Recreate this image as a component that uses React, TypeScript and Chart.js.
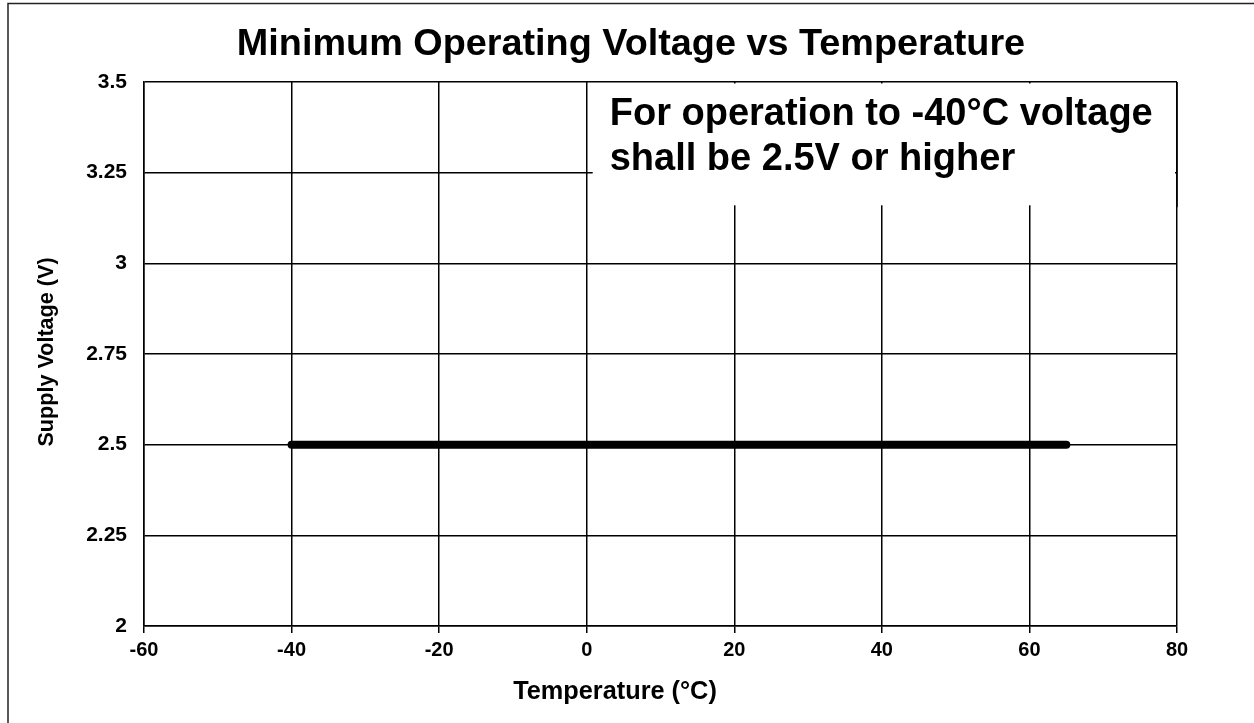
import React, { useEffect, useRef } from "react";
import { Chart, registerables } from "chart.js";

Chart.register(...registerables);

const chartTitle = "Minimum Operating Voltage vs Temperature";
const xAxisTitle = "Temperature (°C)";
const yAxisTitle = "Supply Voltage (V)";
const noteLines = ["For operation to -40°C voltage", "shall be 2.5V or higher"];

const xTickValues = [-60, -40, -20, 0, 20, 40, 60, 80];
const yTickValues = [2, 2.25, 2.5, 2.75, 3, 3.25, 3.5];
const yTickLabels = ["2", "2.25", "2.5", "2.75", "3", "3.25", "3.5"];

const temperatures = [-40, 65];
const minVoltage = [2.5, 2.5];

const FONT = "'Liberation Sans', Arial, sans-serif";

const textPlugin = {
  id: "textPlugin",
  beforeDraw(chart: any) {
    const ctx = chart.ctx;
    ctx.save();
    ctx.fillStyle = "#ffffff";
    ctx.fillRect(0, 0, chart.width, chart.height);
    ctx.strokeStyle = "#222222";
    ctx.lineWidth = 1.5;
    ctx.beginPath();
    ctx.moveTo(8, chart.height + 5);
    ctx.lineTo(8, 3.5);
    ctx.lineTo(chart.width + 5, 3.5);
    ctx.stroke();
    ctx.restore();
  },
  beforeDatasetsDraw(chart: any) {
    const ctx = chart.ctx;
    const xs = chart.scales.x;
    const ys = chart.scales.y;
    const left = xs.getPixelForValue(0) + 6;
    const top = ys.getPixelForValue(3.5) + 1.5;
    const rightEdge = xs.getPixelForValue(80);
    const right = rightEdge - 2;
    const bottom = ys.getPixelForValue(3.16);
    ctx.save();
    ctx.fillStyle = "#ffffff";
    ctx.fillRect(left, top, right - left, bottom - top);
    ctx.strokeStyle = "#000000";
    ctx.lineWidth = 1.5;
    ctx.beginPath();
    ctx.moveTo(rightEdge, ys.getPixelForValue(3.5));
    ctx.lineTo(rightEdge, bottom + 2);
    ctx.stroke();
    ctx.fillStyle = "#000000";
    ctx.font = `bold 38px ${FONT}`;
    ctx.textAlign = "left";
    ctx.textBaseline = "alphabetic";
    ctx.fillText(noteLines[0], left + 17, 125);
    ctx.fillText(noteLines[1], left + 17, 170);
    ctx.restore();
  },
  afterDraw(chart: any) {
    const ctx = chart.ctx;
    ctx.save();
    ctx.fillStyle = "#000000";
    ctx.textAlign = "center";
    ctx.textBaseline = "alphabetic";
    ctx.font = `bold 37.8px ${FONT}`;
    ctx.fillText(chartTitle, 631, 55);
    ctx.font = `bold 25.3px ${FONT}`;
    ctx.fillText(xAxisTitle, 615, 699);
    ctx.translate(53, 352);
    ctx.rotate(-Math.PI / 2);
    ctx.font = `bold 21.6px ${FONT}`;
    ctx.fillText(yAxisTitle, 0, 0);
    ctx.restore();
  },
};

export default function App() {
  const ref = useRef<HTMLCanvasElement | null>(null);

  useEffect(() => {
    if (!ref.current) return;
    const chart = new Chart(ref.current, {
      type: "line",
      data: {
        datasets: [
          {
            data: temperatures.map((t, i) => ({ x: t, y: minVoltage[i] })),
            borderColor: "#000000",
            borderWidth: 8,
            borderCapStyle: "round",
            pointRadius: 0,
            fill: false,
          },
        ],
      },
      options: {
        responsive: false,
        animation: false,
        layout: { padding: { left: 0, top: 82, right: 77, bottom: 0 } },
        plugins: {
          legend: { display: false },
          title: { display: false },
          tooltip: { enabled: false },
        },
        scales: {
          x: {
            type: "linear",
            min: -60,
            max: 80,
            afterBuildTicks: (s: any) => {
              s.ticks = xTickValues.map((v) => ({ value: v }));
            },
            afterFit: (s: any) => {
              s.height = 97;
            },
            ticks: {
              color: "#000000",
              font: { family: FONT, size: 20, weight: "bold" },
              padding: 5,
              maxRotation: 0,
              callback: (v: any) => String(v),
            },
            grid: {
              color: "#000000",
              lineWidth: 1.5,
              tickLength: 7,
              drawTicks: true,
            },
            border: { display: true, color: "#000000", width: 1.5 },
          },
          y: {
            type: "linear",
            min: 2,
            max: 3.5,
            afterBuildTicks: (s: any) => {
              s.ticks = yTickValues.map((v) => ({ value: v }));
            },
            afterFit: (s: any) => {
              s.width = 144;
            },
            ticks: {
              color: "#000000",
              font: { family: FONT, size: 21, weight: "bold" },
              padding: 17,
              callback: (v: any) => {
                const i = yTickValues.indexOf(Number(v));
                return i >= 0 ? yTickLabels[i] : "";
              },
            },
            grid: {
              color: "#000000",
              lineWidth: 1.5,
              drawTicks: false,
            },
            border: { display: true, color: "#000000", width: 1.5 },
          },
        },
      },
      plugins: [textPlugin],
    } as any);
    return () => chart.destroy();
  }, []);

  return (
    <canvas
      ref={ref}
      width={1254}
      height={723}
      style={{ position: "fixed", left: 0, top: 0, display: "block", width: 1254, height: 723 }}
    />
  );
}
